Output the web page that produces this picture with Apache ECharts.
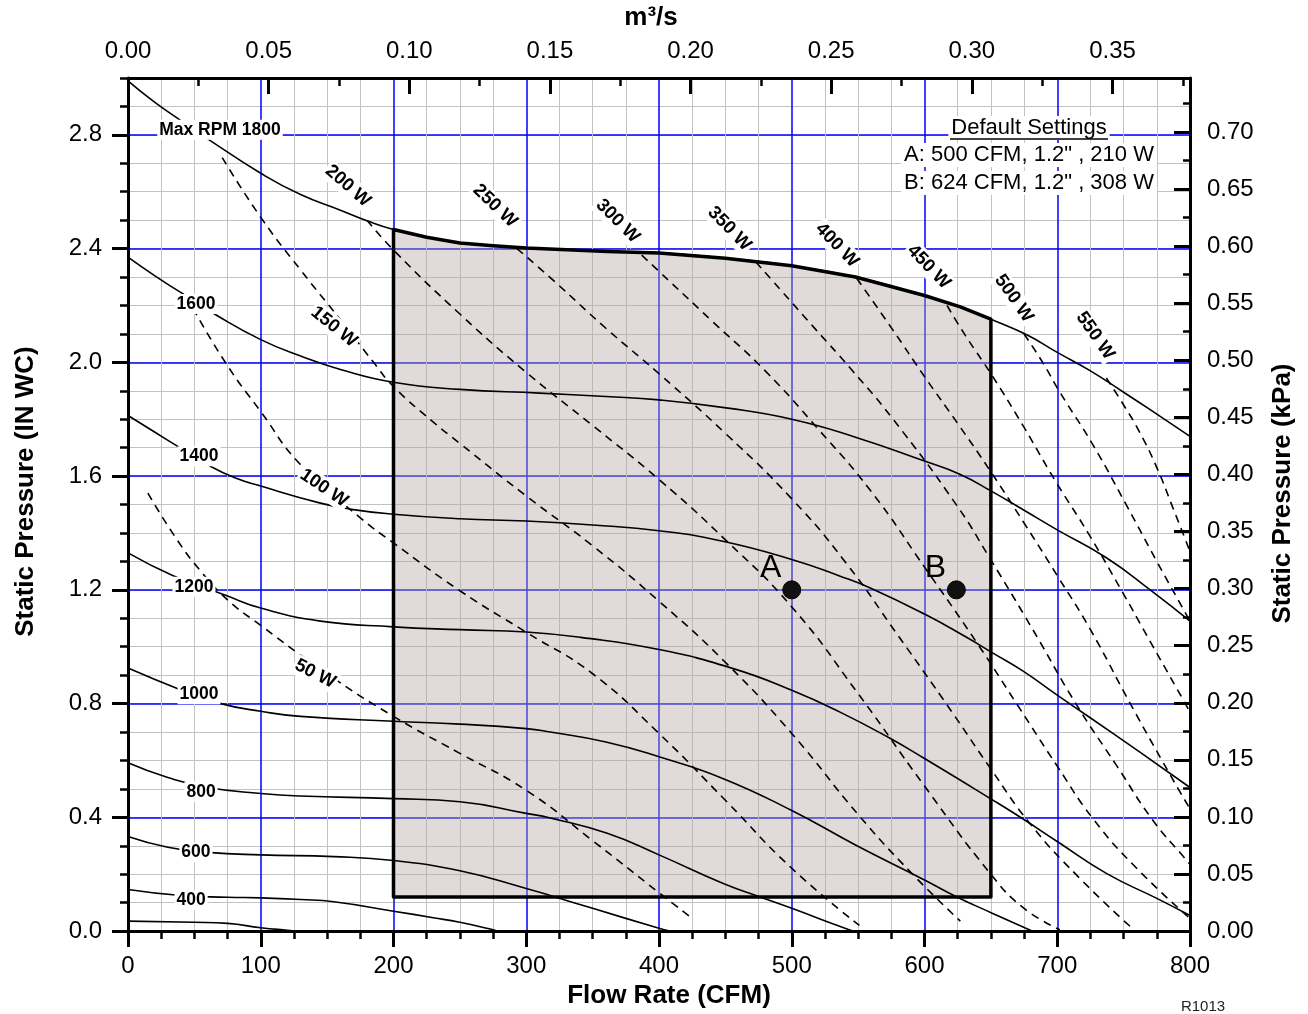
<!DOCTYPE html>
<html><head><meta charset="utf-8">
<script src="https://cdn.jsdelivr.net/npm/echarts@6/dist/echarts.min.js"></script>
<style>html,body{margin:0;padding:0;background:#fff}#c{width:1308px;height:1014px}</style>
</head><body><div id="c"></div>
<script>
// ---------- unit conversions ----------
const CFM_TO_M3S = 0.000471947;
const INWC_TO_KPA = 0.249089;
const X_MAX_CFM = 800;
const Y_MAX_INWC = 3.0;

// ---------- fan curves (CFM, in WC) ----------
const rpm1800 = [[0,2.99],[20,2.915],[39,2.853],[62,2.78],[100,2.665],[130,2.59],[160,2.535],[180,2.498],[200,2.467],[225,2.44],[250,2.42],[275,2.41],[300,2.402],[361,2.39],[400,2.385],[450,2.366],[500,2.34],[548,2.30],[600,2.235],[627,2.195],[650,2.152],[677,2.097],[700,2.035],[725,1.97],[750,1.895],[775,1.818],[800,1.74]];
const rpm1600 = [[0,2.37],[20,2.305],[40,2.245],[67,2.165],[100,2.08],[130,2.022],[160,1.975],[200,1.93],[250,1.905],[310,1.892],[360,1.88],[400,1.868],[452,1.839],[500,1.80],[548,1.737],[600,1.653],[627,1.606],[650,1.548],[675,1.48],[700,1.411],[737,1.313],[770,1.20],[800,1.09]];
const rpm1400 = [[0,1.813],[20,1.755],[39,1.70],[60,1.64],[80,1.595],[100,1.565],[145,1.505],[167,1.484],[200,1.466],[250,1.45],[300,1.442],[350,1.428],[400,1.408],[448,1.371],[500,1.307],[536,1.249],[560,1.205],[600,1.115],[631,1.035],[650,0.982],[674,0.915],[700,0.83],[724,0.753],[762,0.63],[800,0.505]];
const rpm1200 = [[0,1.33],[34,1.25],[74,1.18],[100,1.136],[145,1.09],[200,1.07],[250,1.06],[300,1.052],[341,1.033],[400,0.99],[456,0.923],[500,0.847],[536,0.771],[574,0.678],[600,0.607],[650,0.465],[674,0.395],[700,0.315],[737,0.203],[775,0.115],[800,0.055]];
const rpm1000 = [[0,0.925],[39,0.85],[70,0.80],[100,0.773],[130,0.755],[200,0.738],[250,0.728],[300,0.712],[318,0.70],[360,0.665],[400,0.613],[448,0.537],[500,0.424],[548,0.303],[600,0.18],[624,0.121],[651,0.063],[681,0]];
const rpm800 = [[0,0.592],[30,0.54],[60,0.505],[100,0.484],[130,0.475],[200,0.466],[250,0.455],[300,0.414],[318,0.398],[361,0.344],[400,0.268],[448,0.168],[473,0.125],[500,0.08],[536,0.017],[546,0]];
const rpm600 = [[0,0.333],[30,0.295],[60,0.277],[100,0.268],[155,0.262],[200,0.248],[250,0.212],[300,0.15],[323,0.118],[350,0.08],[400,0.01],[408,0]];
const rpm400 = [[0,0.146],[40,0.125],[75,0.119],[100,0.117],[130,0.111],[155,0.103],[200,0.07],[230,0.047],[250,0.031],[272,0.008],[278,0]];
const rpmLow = [[0,0.035],[50,0.031],[75,0.027],[100,0.012],[120,0.003],[128,0]];

// ---------- constant power lines (CFM, in WC) ----------
const w50 = [[15,1.54],[35,1.39],[54,1.27],[75,1.165],[100,1.075],[150,0.905],[200,0.755],[250,0.625],[300,0.495],[350,0.318],[400,0.135],[425,0.045]];
const w100 = [[49,2.19],[74,1.995],[100,1.827],[130,1.64],[175,1.453],[200,1.365],[250,1.197],[300,1.051],[350,0.905],[400,0.695],[450,0.46],[500,0.221],[551,0.02]];
const w150 = [[71,2.72],[100,2.51],[130,2.325],[160,2.15],[185,2.0],[200,1.915],[230,1.79],[250,1.715],[300,1.53],[350,1.355],[400,1.16],[450,0.945],[500,0.695],[550,0.41],[590,0.205],[627,0.035]];
const w200 = [[180,2.50],[200,2.395],[250,2.17],[300,1.965],[350,1.778],[400,1.588],[450,1.376],[500,1.14],[550,0.835],[600,0.51],[650,0.2],[675,0.08],[702,0.005]];
const w250 = [[293,2.40],[320,2.29],[360,2.12],[400,1.96],[450,1.75],[500,1.52],[540,1.30],[580,1.04],[620,0.775],[650,0.57],[680,0.375],[715,0.195],[755,0.016]];
const w300 = [[387,2.377],[400,2.32],[440,2.145],[480,1.97],[520,1.765],[560,1.545],[600,1.28],[640,1.01],[670,0.795],[700,0.58],[727,0.395],[760,0.22],[800,0.045]];
const w350 = [[473,2.353],[518,2.116],[544,1.98],[576,1.802],[624,1.499],[649,1.313],[682,1.057],[714,0.80],[745,0.58],[772,0.39],[795,0.262],[800,0.235]];
const w400 = [[549,2.295],[576,2.115],[600,1.95],[625,1.785],[650,1.615],[675,1.435],[700,1.25],[725,1.06],[755,0.80],[785,0.55],[800,0.43]];
const w450 = [[617,2.20],[631,2.093],[651,1.953],[674,1.779],[699,1.58],[724,1.394],[750,1.185],[765,1.06],[795,0.812],[800,0.77]];
const w500 = [[675,2.10],[689,2.0],[702,1.895],[727,1.709],[752,1.499],[775,1.30],[797,1.115],[800,1.09]];
const w550 = [[737,1.945],[750,1.85],[762,1.755],[775,1.63],[787,1.49],[800,1.335]];

// ---------- operating region & default settings ----------
const regionCfm = [200, 650];
const regionMinInwc = 0.12;
const defaultNames = ['A', 'B'];
const defaultCfm = [500, 624];
const defaultInwc = [1.2, 1.2];
const defaultWatts = [210, 308];

// ---------- curve label texts ----------
const rpmLabelText = ['Max RPM 1800','1600','1400','1200','1000','800','600','400'];
const wattLabelText = ['50 W','100 W','150 W','200 W','250 W','300 W','350 W','400 W','450 W','500 W','550 W'];

// annotation anchors (layout, in data units) and angles
const rpmLabelAt = [[69.3,2.818],[51.2,2.205],[53.5,1.67],[49.7,1.211],[53.5,0.833],[55.0,0.49],[51.2,0.277],[47.5,0.109]];
const wattLabelAt = [[141,0.905,-27],[147.6,1.558,-34],[155.2,2.125,-39],[165.7,2.62,-41],[276.5,2.55,-44],[368.9,2.497,-45],[453,2.47,-46],[534,2.412,-46],[603.2,2.336,-46],[667.3,2.225,-55],[728.6,2.094,-55]];

const FONT = 'Liberation Sans, Arial, Helvetica, sans-serif';

const fanCurves = [rpm1800, rpm1600, rpm1400, rpm1200, rpm1000, rpm800, rpm600, rpm400, rpmLow];
const powerLines = [w50, w100, w150, w200, w250, w300, w350, w400, w450, w500, w550];

const regionPts = [[regionCfm[0], regionMinInwc]]
  .concat(rpm1800.filter(p => p[0] >= regionCfm[0] && p[0] <= regionCfm[1]))
  .concat([[regionCfm[1], regionMinInwc]]);

const series = [];
series.push({
  type: 'custom', xAxisIndex: 0, yAxisIndex: 1, silent: true, z: 2, clip: true,
  data: [[regionCfm[0], regionMinInwc]],
  renderItem: (params, api) => ({
    type: 'polygon',
    shape: { points: regionPts.map(p => api.coord(p)), smooth: 0 },
    style: { fill: 'rgba(180,168,165,0.42)', stroke: '#000', lineWidth: 3.5, lineJoin: 'round' }
  })
});
fanCurves.forEach(d => series.push({
  type: 'line', xAxisIndex: 0, yAxisIndex: 1, data: d, symbol: 'none', silent: true, z: 3,
  smooth: 0.5, lineStyle: { color: '#000', width: 1.6 }
}));
powerLines.forEach(d => series.push({
  type: 'line', xAxisIndex: 0, yAxisIndex: 1, data: d, symbol: 'none', silent: true, z: 3,
  smooth: 0.5, lineStyle: { color: '#000', width: 1.6, type: [8, 6] }
}));

const labelData = rpmLabelText.map((t, i) => ({ name: t, value: rpmLabelAt[i], label: { rotate: 0, fontSize: 17.5 } }))
  .concat(wattLabelText.map((t, i) => ({ name: t, value: [wattLabelAt[i][0], wattLabelAt[i][1]], label: { rotate: wattLabelAt[i][2] } })));
series.push({
  type: 'scatter', xAxisIndex: 0, yAxisIndex: 1, data: labelData, symbolSize: 1, silent: true, z: 6,
  itemStyle: { color: 'rgba(0,0,0,0)', opacity: 1 },
  label: { show: true, position: 'inside', formatter: '{b}', fontFamily: FONT, fontSize: 18.5, fontWeight: 'bold',
    color: '#000', backgroundColor: '#fff', padding: [1, 2], align: 'center', verticalAlign: 'middle' }
});
series.push({
  type: 'scatter', xAxisIndex: 0, yAxisIndex: 1, silent: true, z: 7,
  data: defaultNames.map((n, i) => ({ name: n, value: [defaultCfm[i], defaultInwc[i]] })),
  symbol: 'circle', symbolSize: 18,
  itemStyle: { color: '#111', borderColor: '#000', borderWidth: 1, opacity: 1 },
  label: { show: true, position: 'inside', formatter: '{b}', offset: [-21, -22], fontFamily: FONT, fontSize: 32, color: '#000' }
});

const settingLines = defaultNames.map((n, i) => `${n}: ${defaultCfm[i]} CFM, ${defaultInwc[i].toFixed(1)}" , ${defaultWatts[i]} W`);

const chart = echarts.init(document.getElementById('c'), null, { renderer: 'canvas' });
const axisLabelBase = { fontFamily: FONT, fontSize: 24, color: '#000' };
const nameStyle = { fontFamily: FONT, fontSize: 26, fontWeight: 'bold', color: '#000' };
const GREY = { color: '#c2c2c2', width: 1 };
const BLUE = { color: '#0000ff', width: 1.5 };
chart.setOption({
  animation: false,
  backgroundColor: '#fff',
  textStyle: { fontFamily: FONT },
  grid: { left: 128, right: 118, top: 78, bottom: 78, containLabel: false },
  xAxis: [
    { type: 'value', position: 'bottom', min: 0, max: X_MAX_CFM, interval: 100, z: 1,
      axisLine: { show: true, onZero: false, lineStyle: { color: '#000', width: 3 } },
      axisTick: { show: true, inside: false, length: 16, lineStyle: { color: '#000', width: 3 } },
      minorTick: { show: true, splitNumber: 4, length: 8, lineStyle: { color: '#000', width: 2.5 } },
      axisLabel: Object.assign({ margin: 23 }, axisLabelBase),
      splitLine: { show: true, lineStyle: BLUE },
      minorSplitLine: { show: true, lineStyle: GREY },
      name: 'Flow Rate (CFM)', nameLocation: 'middle', nameGap: 51,
      nameTextStyle: Object.assign({ padding: [0, 0, 0, 20] }, nameStyle) },
    { type: 'value', position: 'top', min: 0, max: X_MAX_CFM * CFM_TO_M3S, interval: 0.05, z: 1,
      axisLine: { show: true, onZero: false, lineStyle: { color: '#000', width: 3 } },
      axisTick: { show: true, inside: true, length: 16, lineStyle: { color: '#000', width: 3 } },
      axisLabel: Object.assign({ margin: 15, showMaxLabel: false, formatter: v => v.toFixed(2) }, axisLabelBase),
      splitLine: { show: false },
      name: 'm³/s', nameLocation: 'middle', nameGap: 47,
      nameTextStyle: Object.assign({ padding: [0, 16, 0, 0] }, nameStyle) },
    { type: 'value', position: 'top', min: 0, max: X_MAX_CFM * CFM_TO_M3S, interval: 0.025, z: 1,
      axisLine: { show: false, onZero: false }, axisTick: { show: true, inside: true, length: 8, lineStyle: { color: '#000', width: 2.5 } },
      axisLabel: { show: false }, splitLine: { show: false } }
  ],
  yAxis: [
    { type: 'value', position: 'left', min: 0, max: Y_MAX_INWC, interval: 0.1, z: 0,
      axisLine: { show: false, onZero: false }, axisTick: { show: true, length: 8, lineStyle: { color: '#000', width: 2.5 } },
      axisLabel: { show: false }, splitLine: { show: true, lineStyle: GREY } },
    { type: 'value', position: 'left', min: 0, max: Y_MAX_INWC, interval: 0.4, z: 1,
      axisLine: { show: true, onZero: false, lineStyle: { color: '#000', width: 3 } },
      axisTick: { show: true, length: 16, lineStyle: { color: '#000', width: 3 } },
      axisLabel: Object.assign({ margin: 26, showMaxLabel: false, formatter: v => v.toFixed(1) }, axisLabelBase),
      splitLine: { show: true, lineStyle: BLUE },
      name: 'Static Pressure (IN WC)', nameLocation: 'middle', nameGap: 89,
      nameTextStyle: Object.assign({ padding: [0, 0, 0, 26] }, nameStyle) },
    { type: 'value', position: 'right', min: 0, max: Y_MAX_INWC * INWC_TO_KPA, interval: 0.05, z: 1,
      axisLine: { show: true, onZero: false, lineStyle: { color: '#000', width: 3 } },
      axisTick: { show: true, inside: true, length: 16, lineStyle: { color: '#000', width: 3 } },
      axisLabel: Object.assign({ margin: 17, showMaxLabel: false, formatter: v => v.toFixed(2) }, axisLabelBase),
      splitLine: { show: false },
      name: 'Static Pressure (kPa)', nameLocation: 'middle', nameGap: 80,
      nameTextStyle: Object.assign({ padding: [0, 0, 0, 22] }, nameStyle) },
    { type: 'value', position: 'right', min: 0, max: Y_MAX_INWC * INWC_TO_KPA, interval: 0.025, z: 1,
      axisLine: { show: false, onZero: false }, axisTick: { show: true, inside: true, length: 7, lineStyle: { color: '#000', width: 2.5 } },
      axisLabel: { show: false }, splitLine: { show: false } }
  ],
  series: series,
  graphic: [
    { type: 'text', x: 1029, y: 128, z: 100,
      style: { text: 'Default Settings', fontFamily: FONT, fontSize: 22, fill: '#000', align: 'center', verticalAlign: 'middle', backgroundColor: '#fff', padding: [1, 3] } },
    { type: 'line', z: 101, shape: { x1: 950, y1: 139, x2: 1108, y2: 139 }, style: { stroke: '#000', lineWidth: 1.5 } },
    { type: 'text', x: 1029, y: 155, z: 100,
      style: { text: settingLines[0], fontFamily: FONT, fontSize: 22, fill: '#000', align: 'center', verticalAlign: 'middle', backgroundColor: '#fff', padding: [1, 3] } },
    { type: 'text', x: 1029, y: 183, z: 100,
      style: { text: settingLines[1], fontFamily: FONT, fontSize: 22, fill: '#000', align: 'center', verticalAlign: 'middle', backgroundColor: '#fff', padding: [1, 3] } },
    { type: 'text', x: 1203, y: 1007, z: 100,
      style: { text: 'R1013', fontFamily: FONT, fontSize: 15, fill: '#222', align: 'center', verticalAlign: 'middle' } }
  ]
});
</script></body></html>
